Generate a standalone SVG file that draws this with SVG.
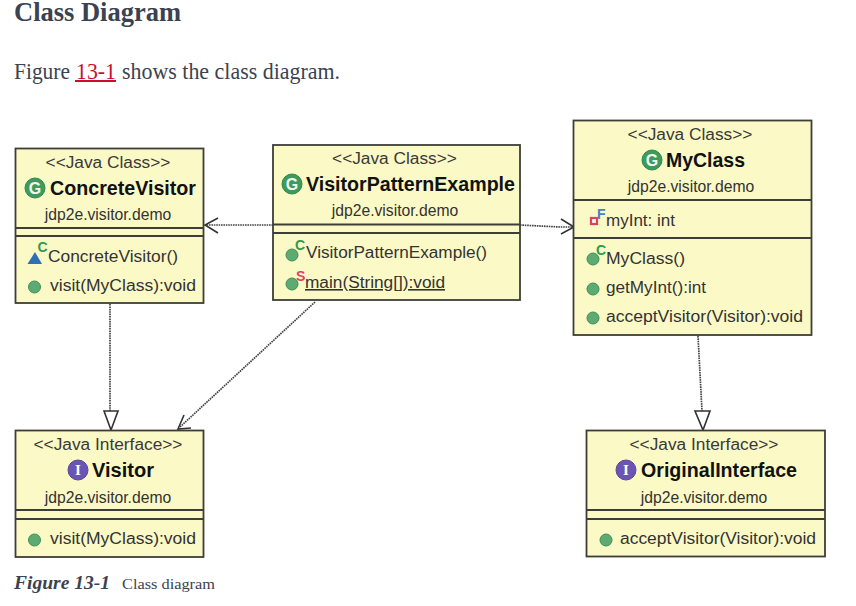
<svg xmlns="http://www.w3.org/2000/svg" width="856" height="606" viewBox="0 0 856 606">
<style>
text{font-family:"Liberation Sans",Arial,sans-serif;fill:#2b2b2b}
.st{font-size:17.3px;fill:#3a3a3a;text-anchor:middle}
.nm{font-size:19.5px;font-weight:bold;fill:#111}
.pk{font-size:15.7px;fill:#333;text-anchor:middle}
.m{font-size:16px;fill:#333}
.box{fill:#fbf9c6;stroke:#3e3e38;stroke-width:1.8}
.sep{stroke:#3e3e38;stroke-width:1.8;fill:none}
.pg{font-family:"Liberation Serif","Noto Serif",serif;fill:#3b4250}
.con{fill:none;stroke:#444;stroke-width:1.7;stroke-dasharray:1.6 .8}
.hd{fill:#fff;stroke:#333;stroke-width:1.6}
.op{fill:none;stroke:#333;stroke-width:1.6}
.g{fill:#5dab73;stroke:#3f8f58;stroke-width:1}
.cc{fill:#3f9a5c;stroke:#2f8a4f;stroke-width:1}
.ci{fill:#6a55b5;stroke:#5a459f;stroke-width:1}
.ic{fill:#f2f7f2;font-weight:bold;font-size:16px;text-anchor:middle}
.ii{fill:#fff;font-weight:bold;font-size:15px;text-anchor:middle;font-family:"Liberation Serif",serif}
.sup{font-size:14px;font-weight:bold}
</style>

<g id="page-text">
<text class="pg" x="14" y="21" font-size="28" font-weight="bold" textLength="167" lengthAdjust="spacingAndGlyphs">Class Diagram</text>
<text class="pg" x="14" y="79" font-size="23" textLength="56" lengthAdjust="spacingAndGlyphs">Figure</text>
<text class="pg" x="76" y="79" font-size="23" style="fill:#c8102e" textLength="40" lengthAdjust="spacingAndGlyphs">13-1</text>
<rect x="75" y="80" width="41" height="2" fill="#c8102e"/>
<text class="pg" x="122" y="79" font-size="23" textLength="218" lengthAdjust="spacingAndGlyphs">shows the class diagram.</text>
<text class="pg" x="14" y="589" font-size="19" font-weight="bold" font-style="italic" textLength="96" lengthAdjust="spacingAndGlyphs">Figure 13-1</text>
<text class="pg" x="122" y="589" font-size="15" textLength="93" lengthAdjust="spacingAndGlyphs">Class diagram</text>
</g>

<g id="connectors">
<path class="con" d="M273 225H206"/>
<path class="op" d="M218 218L205 225L218 233"/>
<path class="con" d="M520 225L560 227H573"/>
<path class="op" d="M561 219L574 227L561 234"/>
<path class="con" d="M110 304V411"/>
<path class="hd" d="M104 411H118L111 430Z"/>
<path class="con" d="M315 302L180 427"/>
<path class="op" d="M184 415L178 429L191 428"/>
<path class="con" d="M698 336L702 411"/>
<path class="hd" d="M695 411H710L703 430Z"/>
</g>

<g id="ConcreteVisitor">
<rect class="box" x="15.500" y="148.500" width="188" height="154.500"/>
<path class="sep" d="M15.500 228H203.500M15.500 236H203.500"/>
<text class="st" x="108" y="168">&lt;&lt;Java Class&gt;&gt;</text>
<circle class="cc" cx="35" cy="188" r="10"/><text class="ic" x="35" y="194">G</text>
<text class="nm" x="50" y="195" textLength="146" lengthAdjust="spacingAndGlyphs">ConcreteVisitor</text>
<text class="pk" x="108" y="220">jdp2e.visitor.demo</text>
<path d="M27.500 264L35 252L42 264Z" fill="#2f6fb5"/>
<text class="sup" x="37.500" y="252" style="fill:#2f9a50">C</text>
<text class="m" x="48" y="262" textLength="130" lengthAdjust="spacingAndGlyphs">ConcreteVisitor()</text>
<circle class="g" cx="34.500" cy="287" r="6"/>
<text class="m" x="50" y="291" textLength="146" lengthAdjust="spacingAndGlyphs">visit(MyClass):void</text>
</g>

<g id="VisitorPatternExample">
<rect class="box" x="273" y="145" width="247" height="155"/>
<path class="sep" d="M273 224.500H520M273 233H520"/>
<text class="st" x="394.500" y="164">&lt;&lt;Java Class&gt;&gt;</text>
<circle class="cc" cx="292" cy="184" r="10"/><text class="ic" x="292" y="190">G</text>
<text class="nm" x="306" y="191" textLength="209" lengthAdjust="spacingAndGlyphs">VisitorPatternExample</text>
<text class="pk" x="395" y="216">jdp2e.visitor.demo</text>
<circle class="g" cx="292" cy="255" r="6"/>
<text class="sup" x="295" y="250" style="fill:#2f9a50">C</text>
<text class="m" x="306" y="258" textLength="181" lengthAdjust="spacingAndGlyphs">VisitorPatternExample()</text>
<circle class="g" cx="292" cy="284" r="6"/>
<text class="sup" x="296" y="281" style="fill:#e0406a">S</text>
<text class="m" x="305" y="288" textLength="140" lengthAdjust="spacingAndGlyphs" text-decoration="underline">main(String[]):void</text>
</g>

<g id="MyClass">
<rect class="box" x="573.500" y="120.500" width="238" height="214.500"/>
<path class="sep" d="M573.500 200H811.500M573.500 238H811.500"/>
<text class="st" x="690" y="140">&lt;&lt;Java Class&gt;&gt;</text>
<circle class="cc" cx="652" cy="160" r="10"/><text class="ic" x="652" y="166">G</text>
<text class="nm" x="666" y="167" textLength="79" lengthAdjust="spacingAndGlyphs">MyClass</text>
<text class="pk" x="691" y="192">jdp2e.visitor.demo</text>
<rect x="591" y="218" width="6" height="6" fill="#fff" stroke="#e0405a" stroke-width="2.2"/>
<text class="sup" x="597" y="218.500" style="fill:#4a7fc0">F</text>
<text class="m" x="606" y="226" textLength="69" lengthAdjust="spacingAndGlyphs">myInt: int</text>
<circle class="g" cx="593" cy="259" r="6"/>
<text class="sup" x="596" y="255" style="fill:#2f9a50">C</text>
<text class="m" x="606" y="264" textLength="79" lengthAdjust="spacingAndGlyphs">MyClass()</text>
<circle class="g" cx="593" cy="289" r="6"/>
<text class="m" x="606" y="293" textLength="100" lengthAdjust="spacingAndGlyphs">getMyInt():int</text>
<circle class="g" cx="593" cy="318" r="6"/>
<text class="m" x="606" y="322" textLength="197" lengthAdjust="spacingAndGlyphs">acceptVisitor(Visitor):void</text>
</g>

<g id="Visitor">
<rect class="box" x="15.500" y="430.500" width="188" height="126.500"/>
<path class="sep" d="M15.500 510H203.500M15.500 519H203.500"/>
<text class="st" x="108" y="450">&lt;&lt;Java Interface&gt;&gt;</text>
<circle class="ci" cx="78" cy="470" r="10"/><text class="ii" x="78" y="475">I</text>
<text class="nm" x="92" y="477" textLength="62" lengthAdjust="spacingAndGlyphs">Visitor</text>
<text class="pk" x="108" y="503">jdp2e.visitor.demo</text>
<circle class="g" cx="34.500" cy="540" r="6"/>
<text class="m" x="50" y="544" textLength="146" lengthAdjust="spacingAndGlyphs">visit(MyClass):void</text>
</g>

<g id="OriginalInterface">
<rect class="box" x="586.500" y="430.500" width="238.500" height="126"/>
<path class="sep" d="M586.500 510H825M586.500 519H825"/>
<text class="st" x="704" y="450">&lt;&lt;Java Interface&gt;&gt;</text>
<circle class="ci" cx="626" cy="470" r="10"/><text class="ii" x="626" y="475">I</text>
<text class="nm" x="641" y="477" textLength="156" lengthAdjust="spacingAndGlyphs">OriginalInterface</text>
<text class="pk" x="704" y="503">jdp2e.visitor.demo</text>
<circle class="g" cx="606" cy="540" r="6"/>
<text class="m" x="620" y="544" textLength="196" lengthAdjust="spacingAndGlyphs">acceptVisitor(Visitor):void</text>
</g>
</svg>
